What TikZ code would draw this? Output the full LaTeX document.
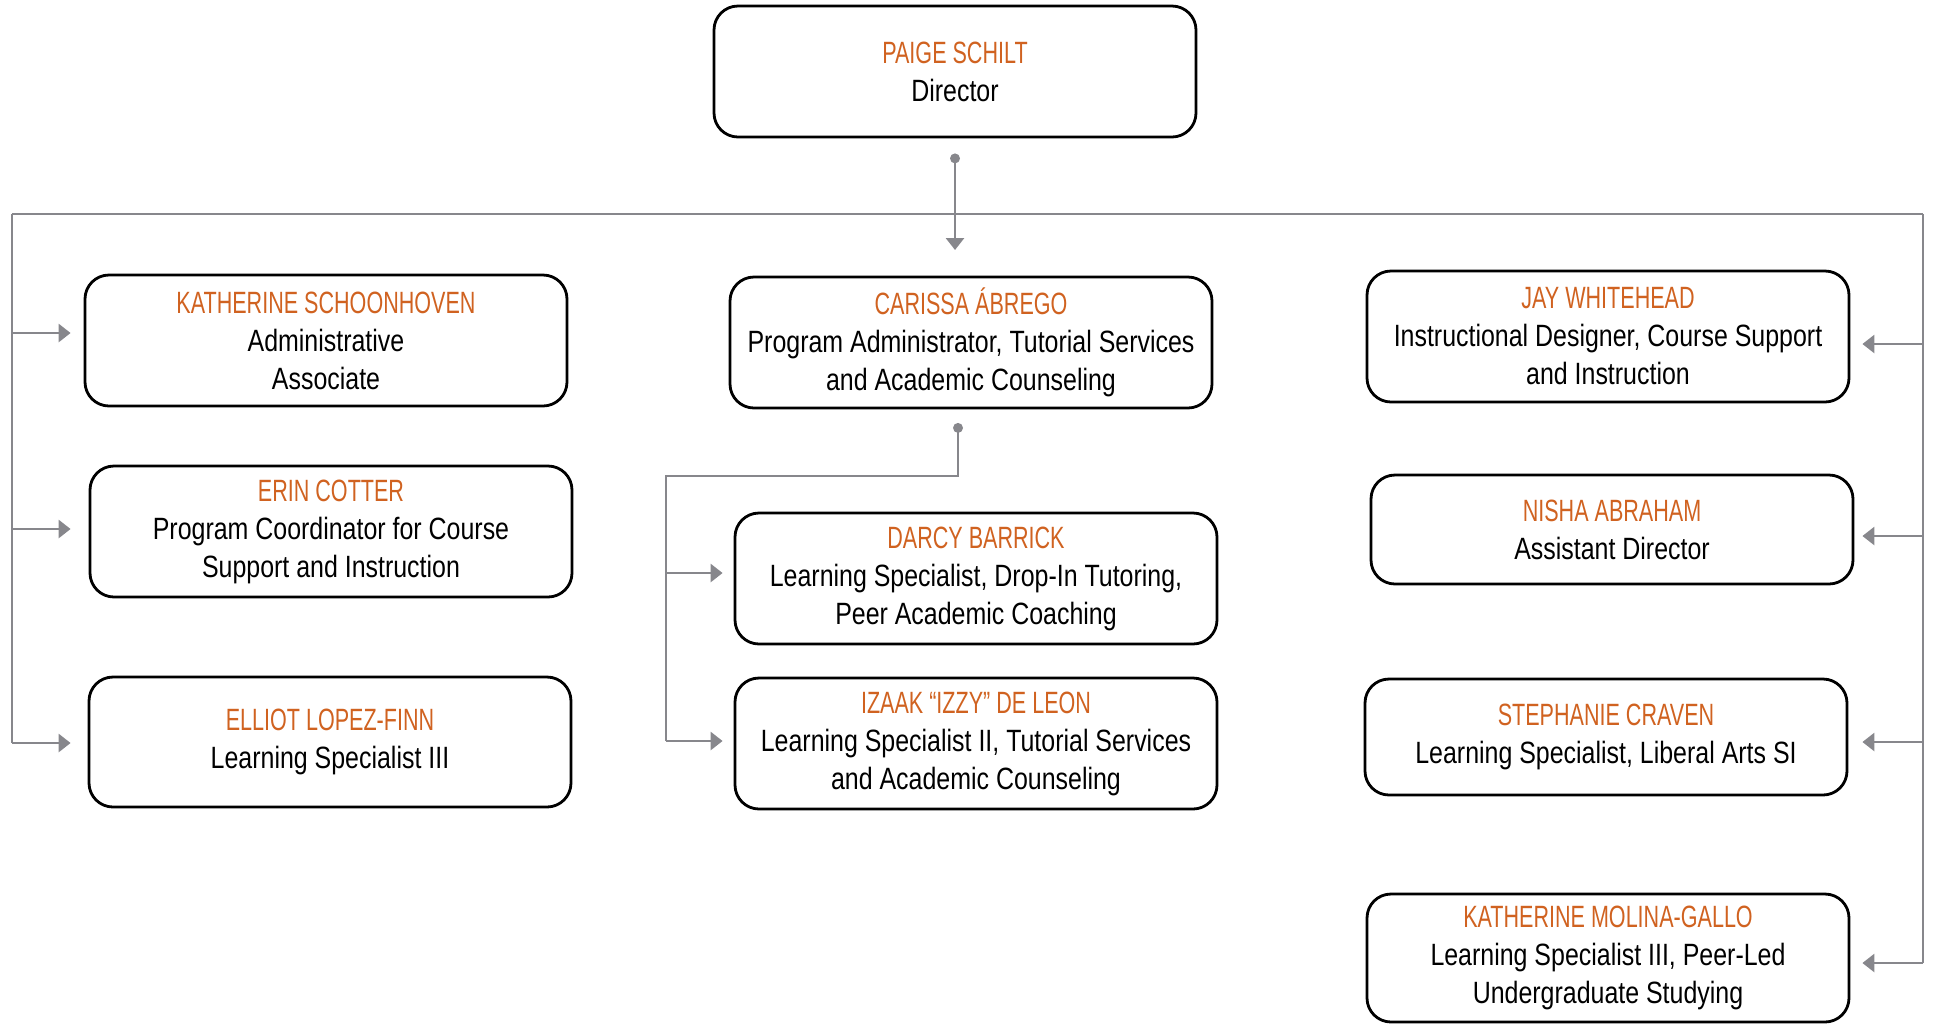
\documentclass[tikz,border=0pt]{standalone}
\usepackage{fontspec}
\setmainfont[FakeStretch=0.81]{Liberation Sans}
\newfontfamily\namefont[FakeStretch=0.7]{Liberation Sans}
\usetikzlibrary{arrows.meta}
\definecolor{uto}{RGB}{208,98,32}
\definecolor{conngray}{RGB}{135,135,140}
\newcommand{\pname}[1]{{\namefont\color{uto}#1}}
\begin{document}
\begin{tikzpicture}[x=0.5pt,y=-0.5pt,
  person/.style={draw=black, line width=1.4pt, rounded corners=12pt, align=center,
    inner sep=0pt, minimum width=241pt, font=\fontsize{15.4}{19}\selectfont, text=black},
  conn/.style={draw=conngray, line width=1.4pt, -{Triangle[width=9pt,length=6pt]}},
  wire/.style={draw=conngray, line width=1.4pt},
  pdot/.style={fill=conngray}]
\useasboundingbox (0,0) rectangle (1933,1025);

% boxes
\node[person, minimum height=65.5pt] (dir) at (955,71.5) {\pname{PAIGE SCHILT}\\Director};

\node[person, minimum height=65.5pt] (ks) at (326,340.5) {\pname{KATHERINE SCHOONHOVEN}\\Administrative\\Associate};
\node[person, minimum height=65.5pt] (ec) at (331,531.5) {\pname{ERIN COTTER}\\Program Coordinator for Course\\Support and Instruction};
\node[person, minimum height=65pt] (el) at (330,742) {\pname{ELLIOT LOPEZ-FINN}\\Learning Specialist III};

\node[person, minimum height=65.5pt] (ca) at (971,342.5) {\pname{CARISSA ÁBREGO}\\Program Administrator, Tutorial Services\\and Academic Counseling};
\node[person, minimum height=65.5pt] (db) at (976,578.5) {\pname{DARCY BARRICK}\\Learning Specialist, Drop-In Tutoring,\\Peer Academic Coaching};
\node[person, minimum height=65.5pt] (iz) at (976,743.5) {\pname{IZAAK “IZZY” DE LEON}\\Learning Specialist II, Tutorial Services\\and Academic Counseling};

\node[person, minimum height=65.5pt] (jw) at (1608,336.5) {\pname{JAY WHITEHEAD}\\Instructional Designer, Course Support\\and Instruction};
\node[person, minimum height=54.5pt] (na) at (1612,529.5) {\pname{NISHA ABRAHAM}\\Assistant Director};
\node[person, minimum height=58pt] (sc) at (1606,737) {\pname{STEPHANIE CRAVEN}\\Learning Specialist, Liberal Arts SI};
\node[person, minimum height=64pt] (km) at (1608,958) {\pname{KATHERINE MOLINA-GALLO}\\Learning Specialist III, Peer-Led\\Undergraduate Studying};

% director to bus
\coordinate (ddot) at ([yshift=-10pt]dir.south);
\coordinate (dtip) at (955,250);
\coordinate (busL) at (12,214);
\coordinate (busR) at (1923,214);
\draw[wire] (busL) -- (busR);
\draw[conn] (ddot) -- (dtip);
\fill[pdot] (ddot) circle (2.5pt);

% left trunk
\coordinate (L1) at (12,333);
\coordinate (L2) at (12,529);
\coordinate (L3) at (12,743);
\draw[wire] (busL) -- (L3);
\draw[conn, shorten >=6.5pt] (L1) -- (L1 -| ks.west);
\draw[conn, shorten >=9pt] (L2) -- (L2 -| ec.west);
\draw[conn, shorten >=8.5pt] (L3) -- (L3 -| el.west);

% middle branch
\coordinate (cdot) at ([xshift=-6.5pt,yshift=-9.25pt]ca.south);
\coordinate (cbend) at (666,476);
\coordinate (M1) at (666,573);
\coordinate (M2) at (666,741);
\draw[wire] (cdot) |- (cbend) -- (M2);
\draw[conn, shorten >=5.5pt] (M1) -- (M1 -| db.west);
\draw[conn, shorten >=5.5pt] (M2) -- (M2 -| iz.west);
\fill[pdot] (cdot) circle (2.5pt);

% right trunk
\coordinate (R1) at (1923,344);
\coordinate (R2) at (1923,536);
\coordinate (R3) at (1923,742);
\coordinate (R4) at (1923,963);
\draw[wire] (busR) -- (R4);
\draw[conn, shorten >=6pt] (R1) -- (R1 -| jw.east);
\draw[conn, shorten >=4pt] (R2) -- (R2 -| na.east);
\draw[conn, shorten >=7pt] (R3) -- (R3 -| sc.east);
\draw[conn, shorten >=6pt] (R4) -- (R4 -| km.east);
\end{tikzpicture}
\end{document}
